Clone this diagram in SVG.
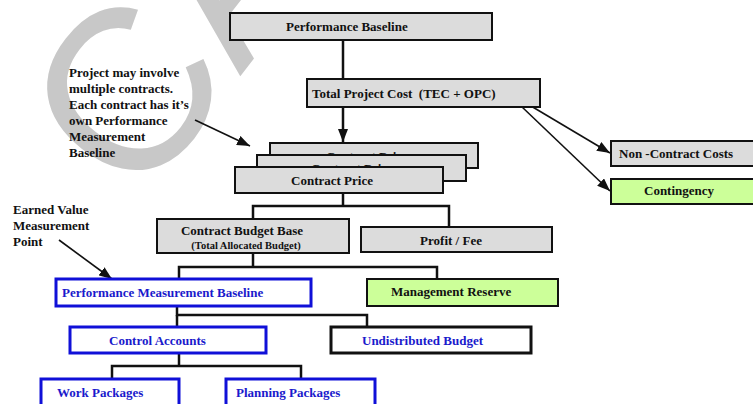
<svg xmlns="http://www.w3.org/2000/svg" width="753" height="404" viewBox="0 0 753 404">
<style>
text{font-family:"Liberation Serif","Times New Roman",serif;font-weight:bold;font-size:13px;fill:#111}
.blue{fill:#1a1acc}
.sm{font-size:10.5px}
.g{fill:#dcdcdc;stroke:#111;stroke-width:2}
.gr{fill:#ccff99;stroke:#111;stroke-width:2}
.b{fill:#fff;stroke:#1010d8;stroke-width:3}
.k{fill:#fff;stroke:#111;stroke-width:3}
.c{fill:none;stroke:#111;stroke-width:2.5}
.a{fill:none;stroke:#111;stroke-width:1.6}
.wm{font-family:"Liberation Sans",Arial,sans-serif;font-weight:normal;font-size:230px;fill:#c8c8c8}
</style>
<defs>
<marker id="ah" viewBox="0 0 13 10" refX="13" refY="5" markerWidth="13" markerHeight="10" markerUnits="userSpaceOnUse" orient="auto"><path d="M0,0L13,5L0,10z" fill="#111"/></marker>
</defs>
<rect width="753" height="404" fill="#fff"/>
<g id="watermark"><text class="wm" transform="translate(124,90) rotate(-52) translate(-84,83)">CA</text></g>
<g id="connectors">
<line class="c" x1="343" y1="40" x2="343" y2="79"/>
<line class="c" x1="343" y1="107" x2="343" y2="142" marker-end="url(#ah)"/>
<polyline class="c" points="343,193 343,206"/>
<polyline class="c" points="253,219 253,206 449,206 449,227"/>
<polyline class="c" points="253,253 253,267"/>
<polyline class="c" points="179,279 179,267 437,267 437,280"/>
<polyline class="c" points="177,306 177,315 367,315 367,326"/>
<line class="c" x1="177" y1="315" x2="177" y2="327"/>
<polyline class="c" points="179,353 179,366"/>
<polyline class="c" points="112,379 112,366 301,366 301,379"/>
<line class="a" x1="531" y1="106" x2="610" y2="153" marker-end="url(#ah)"/>
<line class="a" x1="521" y1="106" x2="610" y2="191" marker-end="url(#ah)"/>
<line class="a" x1="195" y1="120" x2="250" y2="146" marker-end="url(#ah)"/>
<line class="a" x1="59" y1="240" x2="112" y2="279" marker-end="url(#ah)"/>
</g>
<g id="note-contracts">
<text x="69" y="77">Project may involve</text>
<text x="69" y="93">multiple contracts.</text>
<text x="69" y="109">Each contract has it’s</text>
<text x="69" y="125">own Performance</text>
<text x="69" y="141">Measurement</text>
<text x="69" y="157">Baseline</text>
</g>
<g id="note-ev">
<text x="13" y="214">Earned Value</text>
<text x="13" y="230">Measurement</text>
<text x="13" y="246">Point</text>
</g>
<g id="performance-baseline"><rect class="g" x="230" y="13" width="262" height="27"/><text x="286" y="31">Performance Baseline</text></g>
<g id="total-project-cost"><rect class="g" x="307" y="79" width="233" height="28"/><text x="312" y="98" style="white-space:pre">Total Project Cost  (TEC + OPC)</text></g>
<g id="non-contract-costs"><rect class="g" x="611" y="141" width="150" height="25"/><text x="619" y="158">Non -Contract Costs</text></g>
<g id="contingency"><rect class="gr" x="611" y="179" width="150" height="25"/><text x="644" y="195">Contingency</text></g>
<g id="contract-price-3"><rect class="g" x="270" y="143" width="208" height="25"/><text x="367" y="161" text-anchor="middle">Contract Price</text></g>
<g id="contract-price-2"><rect class="g" x="257" y="155" width="209" height="26"/><text x="352" y="173" text-anchor="middle">Contract Price</text></g>
<g id="contract-price"><rect class="g" x="235" y="167" width="208" height="26"/><text x="332" y="185" text-anchor="middle">Contract Price</text></g>
<g id="contract-budget-base"><rect class="g" x="157" y="219" width="192" height="34"/><text x="242" y="235" text-anchor="middle">Contract Budget Base</text><text class="sm" x="246" y="249" text-anchor="middle">(Total Allocated Budget)</text></g>
<g id="profit-fee"><rect class="g" x="361" y="227" width="191" height="25"/><text x="451" y="245" text-anchor="middle">Profit / Fee</text></g>
<g id="pmb"><rect class="b" x="56" y="279" width="255" height="27"/><text class="blue" x="62" y="297">Performance Measurement Baseline</text></g>
<g id="management-reserve"><rect class="gr" x="367" y="279" width="191" height="27"/><text x="391" y="296">Management Reserve</text></g>
<g id="control-accounts"><rect class="b" x="70" y="327" width="196" height="26"/><text class="blue" x="109" y="345">Control Accounts</text></g>
<g id="undistributed-budget"><rect class="k" x="331" y="327" width="200" height="26"/><text class="blue" x="362" y="345">Undistributed Budget</text></g>
<g id="work-packages"><rect class="b" x="41" y="379" width="138" height="40"/><text class="blue" x="57" y="397">Work Packages</text></g>
<g id="planning-packages"><rect class="b" x="226" y="379" width="149" height="40"/><text class="blue" x="236" y="397">Planning Packages</text></g>
</svg>
